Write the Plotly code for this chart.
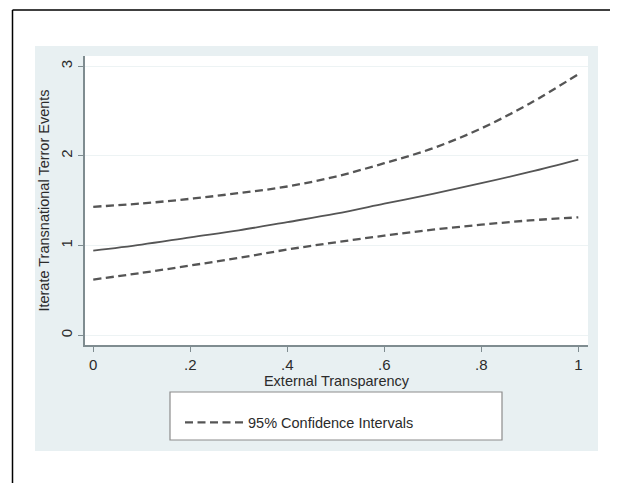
import plotly.graph_objects as go

# Data
x_vals = [0.0, 0.1, 0.2, 0.3, 0.4, 0.5, 0.6, 0.7, 0.8, 0.9, 1.0]
predicted = [0.944, 1.011, 1.092, 1.170, 1.262, 1.356, 1.467, 1.578, 1.696, 1.822, 1.960]
upper_ci = [1.433, 1.470, 1.522, 1.585, 1.659, 1.770, 1.919, 2.085, 2.307, 2.585, 2.911]
lower_ci = [0.622, 0.696, 0.778, 0.863, 0.956, 1.037, 1.111, 1.178, 1.233, 1.281, 1.315]

x_ticks = [0, 0.2, 0.4, 0.6, 0.8, 1]
x_ticktext = ["0", ".2", ".4", ".6", ".8", "1"]
y_ticks = [0, 1, 2, 3]
y_ticktext = ["0", "1", "2", "3"]

# page body has an 8px margin, so the figure is offset by 8px
OFF = 8
W, H = 618 - OFF, 483 - OFF
FONT = "Liberation Sans, Arial, sans-serif"
FS = 14.5
TXT = "#2b2b2b"
LINE = "#555555"
AX = "#7f8c90"
DASH = "8px,4.5px"

fig = go.Figure()
fig.add_trace(go.Scatter(x=x_vals, y=predicted, mode="lines",
                         line=dict(color=LINE, width=1.8, shape="spline"), showlegend=False))
fig.add_trace(go.Scatter(x=x_vals, y=upper_ci, mode="lines", name="95% Confidence Intervals",
                         line=dict(color=LINE, width=2.3, dash=DASH, shape="spline"),
                         showlegend=True, legendgroup="ci"))
fig.add_trace(go.Scatter(x=x_vals, y=lower_ci, mode="lines",
                         line=dict(color=LINE, width=2.3, dash=DASH, shape="spline"),
                         showlegend=False, legendgroup="ci"))

def px(xp):
    return (xp - OFF) / W

def py(yp):
    return 1 - (yp - OFF) / H

shapes = [
    # blue-grey graph region
    dict(type="rect", xref="paper", yref="paper", x0=px(35), x1=px(598), y0=py(451), y1=py(46),
         fillcolor="#e8f0f2", line=dict(width=0), layer="below"),
    # white plot area
    dict(type="rect", xref="paper", yref="paper", x0=px(85), x1=px(588), y0=py(345), y1=py(56),
         fillcolor="#ffffff", line=dict(width=0), layer="below"),
    # outer frame lines (left and top)
    dict(type="line", xref="paper", yref="paper", x0=px(12.5), x1=px(12.5), y0=py(483), y1=py(10),
         line=dict(color="#000000", width=1.5)),
    dict(type="line", xref="paper", yref="paper", x0=px(12.5), x1=px(618), y0=py(10), y1=py(10),
         line=dict(color="#000000", width=1.5)),
    # legend box
    dict(type="rect", xref="paper", yref="paper", x0=px(170), x1=px(502), y0=py(440), y1=py(392),
         fillcolor="#ffffff", line=dict(color="#8c8c8c", width=1.2), layer="below"),
]

fig.update_layout(
    width=W, height=H,
    margin=dict(l=0, r=0, t=0, b=0),
    paper_bgcolor="#ffffff",
    plot_bgcolor="rgba(0,0,0,0)",
    font=dict(family=FONT, size=FS, color=TXT),
    shapes=shapes,
    showlegend=True,
    legend=dict(x=px(180), y=py(422.5), xanchor="left", yanchor="middle",
                bgcolor="rgba(0,0,0,0)", borderwidth=0,
                font=dict(family=FONT, size=FS, color=TXT),
                itemwidth=58),
    xaxis=dict(domain=[px(85), px(588)], range=[-0.017, 1.02],
               tickvals=x_ticks, ticktext=x_ticktext,
               tickfont=dict(family=FONT, size=15, color=TXT),
               ticks="outside", ticklen=5, tickcolor=AX, tickwidth=1,
               showline=True, linecolor=AX, linewidth=1.5,
               showgrid=False, zeroline=False,
               title=dict(text="External Transparency", standoff=1,
                          font=dict(family=FONT, size=FS, color=TXT)),
               anchor="y"),
    yaxis=dict(domain=[py(345), py(56)], range=[-0.108, 3.114],
               tickvals=y_ticks, ticktext=y_ticktext, tickangle=-90,
               tickfont=dict(family=FONT, size=15, color=TXT),
               ticks="outside", ticklen=5, tickcolor=AX, tickwidth=1,
               showline=True, linecolor=AX, linewidth=1.5,
               showgrid=True, gridcolor="#edf3f4", gridwidth=1,
               zeroline=False,
               title=dict(text="Iterate Transnational Terror Events", standoff=5,
                          font=dict(family=FONT, size=FS, color=TXT)),
               anchor="x"),
)

fig.write_html("out.html")
